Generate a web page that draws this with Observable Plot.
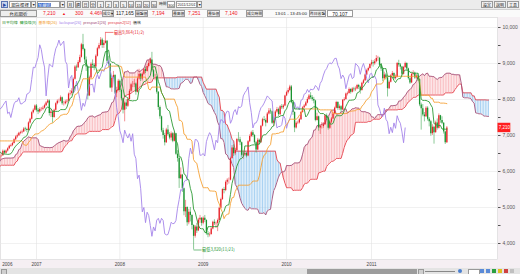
<!DOCTYPE html>
<html><head><meta charset="utf-8">
<script src="https://cdn.jsdelivr.net/npm/d3@7"></script>
<script src="https://cdn.jsdelivr.net/npm/@observablehq/plot@0.6"></script>
<style>
body{margin:0;width:520px;height:274px;overflow:hidden;background:#fff;position:relative;font-family:"Liberation Sans","Noto Sans CJK TC",sans-serif}
.b{position:absolute;font-size:5px;line-height:7px;height:7px;white-space:nowrap;color:#222}
.bx{border:0.5px solid #9a9a9a;background:#f1f1f1;text-align:center;box-sizing:border-box;overflow:hidden}
.r{color:#f0141e}
#chart{position:absolute;left:0;top:17px}
#leg{position:absolute;left:2px;top:19px;display:flex;gap:2.2px;font-size:3.9px;line-height:7px;white-space:nowrap}
</style></head><body>
<div style="position:absolute;left:0;top:0;width:520px;height:9px;background:#ececec"></div>
<div style="position:absolute;left:0;top:9px;width:520px;height:8px;background:#fafafa;border-top:0.5px solid #d0d0d0"></div>
<div id="chart"></div>
<div id="hdr"></div>
<div id="leg"></div>
<div style="position:absolute;left:0;top:268px;width:520px;height:6px;background:#e4e4e4"></div>
<div style="position:absolute;left:1px;top:268.5px;width:4px;height:5px;background:#cfcfcf;border:0.5px solid #999"></div>
<div style="position:absolute;left:307px;top:268.5px;width:110px;height:5px;background:#9c9c9c"></div>
<div style="position:absolute;left:418px;top:268.5px;width:4px;height:5px;background:#cfcfcf;border:0.5px solid #999"></div>
<div style="position:absolute;left:425px;top:270.5px;width:30px;height:1px;background:#888"></div>
<div style="position:absolute;left:458px;top:269px;width:4px;height:4px;background:#4a7fd0;border-radius:2px"></div>
<div style="position:absolute;left:468px;top:268.5px;width:10px;height:5px;background:#fff;border:0.5px solid #999"></div>
<div style="position:absolute;left:480px;top:269px;width:4px;height:4px;background:#5a8ad8"></div>
<div style="position:absolute;left:486px;top:269px;width:4px;height:4px;background:#5a8ad8"></div>
<div style="position:absolute;left:492px;top:269px;width:4px;height:4px;background:#2aa040"></div>
<div style="position:absolute;left:498px;top:269px;width:4px;height:4px;background:#e0c020"></div>
<div style="position:absolute;left:504px;top:269px;width:4px;height:4px;background:#d04040"></div>
<div style="position:absolute;left:510px;top:269px;width:4px;height:4px;background:#c0c0c0"></div>
<script>
// ---- weekly bars, first bar = week ending 2005-02-04 ----
const close = [
 6010,6060,6130,6170,
 6180,6280,6130,6010,6030,6090,5990,5820,5820,5890,5930,5960,6070,6120,6220,6260,6270,6210,6310,6350,
 6380,6310,6400,6300,6150,6040,6110,6230,6120,6050,6120,6050,5830,5720,5660,5850,5980,6060,6200,6330,
 6370,6420,6470,6550,
 6600,6580,6450,6620,6700,6590,6520,6610,6560,6480,6580,6620,6610,6880,6900,7150,7170,7320,7250,6920,
 6780,6790,6540,6500,6600,6700,6550,6450,6320,6430,6440,6560,6510,6570,6630,6700,6720,6780,6880,6960,
 6990,7060,7080,7100,7180,7170,7140,7350,7450,7630,7700,7820,
 7700,7650,7720,7730,7760,7830,7900,7960,7610,7650,7500,7700,7880,7950,7950,8050,7880,7880,7930,7950,
 8150,8170,8230,8560,8900,8880,9030,9170,9520,9390,9100,8900,8100,8600,8980,8950,8900,9200,9410,9500,
 9650,9500,9560,9620,9060,8980,8320,8590,8670,8180,8250,8510,
 8250,8020,7700,7900,7810,8000,8230,8410,8410,8430,8200,8570,8700,8570,8700,8830,8780,8920,9000,9100,
 8800,8620,8620,8200,7780,7520,7130,7000,6800,7150,7020,6930,7050,6840,7050,6480,6360,5800,5900,5520,
 4880,5000,4580,4870,4780,4500,4200,4460,4350,4650,4700,4560,
 4700,4640,4270,4240,4250,4400,4590,4550,4560,4640,4980,5220,5500,5470,5700,5760,5760,6360,6650,6490,
 6580,6890,6880,6800,6450,6460,6500,6430,6830,6970,7080,7000,6800,6600,6870,6800,7260,7440,7420,7350,
 7600,7680,7660,7340,7440,7650,7720,7580,7800,7770,7820,8100,
 8190,8250,8350,7910,7640,7210,7340,7350,7440,7640,7770,7820,7900,8000,8100,8050,8000,7960,7420,7520,
 7210,7250,7250,7300,7550,7480,7200,7370,7460,7600,7760,7920,7750,7800,7710,7980,8000,8150,8170,8280,
 8200,8290,8270,8290,8390,8340,8250,8450,8520,8680,8800,8860,8970,
 9020,8990,9050,9140,9145,8950,8850,8580,8680,8600,8300,8480,8660,8720,8580,8620,9000,8960,8900,8700,
 8890,9000,8850,8580,8460,8700,8730,8600,8650,8550,7850,7740,7570,7520,7760,7450,7380,7050,7230,7080,
 7350,7200,7550,7420,7340,7100,6800,7210
];
const high = [
 6060,6090,6160,6200,
 6260,6370,6300,6160,6090,6130,6110,6000,5880,5920,5970,5990,6090,6150,6240,6290,6310,6290,6330,6380,
 6420,6400,6480,6420,6310,6170,6140,6260,6240,6140,6150,6140,6060,5850,5760,5870,6000,6090,6220,6350,
 6410,6450,6500,6570,
 6640,6650,6600,6640,6730,6710,6620,6640,6650,6590,6600,6660,6660,6900,6960,7180,7230,7400,7470,7270,
 6960,6880,6800,6580,6640,6740,6720,6580,6460,6460,6500,6600,6590,6600,6660,6730,6760,6810,6910,6990,
 7040,7090,7120,7150,7220,7230,7200,7380,7480,7660,7740,7850,
 7860,7750,7770,7780,7810,7870,7940,8000,7990,7720,7680,7730,7910,7990,8010,8100,8070,7950,7980,8000,
 8180,8250,8300,8600,8940,8960,9080,9230,9560,9810,9420,9180,8920,8650,9020,9100,9000,9240,9450,9560,
 9720,9700,9640,9864,9640,9200,9000,8640,8780,8690,8340,8560,
 8540,8290,8040,7960,7990,8050,8280,8450,8500,8560,8460,8620,8840,8720,8740,8870,8900,8980,9080,9150,
 9310,8840,8700,8640,8220,7820,7540,7200,7060,7200,7280,7080,7100,7080,7090,7060,6580,6380,6100,5920,
 5540,5200,5020,4950,5000,4800,4520,4500,4560,4700,4780,4720,
 4740,4780,4660,4330,4300,4440,4620,4660,4600,4680,5010,5260,5520,5560,5740,5800,5820,6400,6720,6740,
 6640,6920,7080,6950,6820,6520,6560,6530,6860,7020,7120,7140,7030,6830,6920,6900,7280,7480,7530,7460,
 7640,7750,7740,7680,7480,7690,7780,7760,7830,7860,7860,8120,
 8230,8310,8395,8390,7950,7660,7380,7400,7480,7670,7800,7860,7940,8050,8140,8190,8110,8060,7980,7620,
 7540,7290,7360,7360,7580,7600,7500,7400,7500,7640,7790,7950,7940,7850,7830,8000,8050,8180,8210,8320,
 8300,8330,8340,8350,8420,8420,8370,8480,8560,8710,8840,8900,8990,
 9090,9080,9110,9220,9200,9170,8990,8870,8760,8720,8620,8520,8690,8780,8740,8680,9030,9090,9000,8920,
 8920,9040,9020,8870,8620,8730,8800,8760,8700,8720,8570,7900,7860,7640,7800,7800,7500,7420,7300,7260,
 7400,7460,7600,7560,7520,7360,7120,7250
];
const low = [
 5960,6000,6040,6100,
 6100,6150,6100,5980,5960,6000,5960,5790,5750,5800,5860,5890,5940,6040,6100,6190,6220,6170,6190,6280,
 6320,6280,6290,6270,6120,6010,6020,6090,6090,6010,6030,6020,5800,5690,5620,5640,5830,5950,6040,6180,
 6300,6340,6390,6450,
 6520,6540,6410,6430,6600,6560,6480,6500,6530,6450,6460,6550,6570,6600,6840,6880,7090,7150,7200,6880,
 6700,6700,6500,6400,6470,6570,6520,6410,6230,6300,6380,6420,6470,6490,6540,6610,6670,6690,6760,6860,
 6920,6970,7020,7040,7080,7120,7080,7120,7320,7430,7600,7680,
 7650,7580,7620,7670,7690,7740,7810,7880,7540,7500,7340,7480,7680,7850,7900,7930,7840,7820,7850,7880,
 7940,8100,8120,8220,8540,8780,8860,9000,9150,9350,9000,8780,7990,8080,8580,8870,8800,8880,9180,9380,
 9480,9420,9420,9540,9000,8880,8300,8200,8560,8140,8050,8230,
 8200,7960,7600,7380,7720,7780,7980,8200,8330,8330,8120,8180,8540,8500,8520,8660,8720,8760,8880,8960,
 8760,8560,8520,8150,7700,7450,7080,6900,6710,6780,6980,6880,6850,6800,6820,6450,6260,5530,5780,5420,
 4770,4720,4480,4520,4600,4380,3820,4150,4280,4330,4560,4480,
 4520,4580,4230,4160,4180,4230,4380,4500,4420,4330,4620,4950,5200,5380,5440,5620,5650,5740,6340,6420,
 6440,6560,6820,6720,6400,6340,6420,6380,6410,6800,6940,6950,6750,6510,6580,6740,6780,7240,7380,7240,
 7330,7570,7590,7310,7250,7420,7620,7520,7560,7720,7720,7800,
 8080,8150,8220,7880,7560,7080,7180,7300,7320,7420,7620,7740,7800,7880,7980,8000,7950,7880,7380,7400,
 7120,7030,7180,7200,7280,7420,7150,7170,7330,7440,7580,7740,7700,7700,7640,7700,7940,7980,8100,8150,
 8150,8180,8210,8220,8270,8280,8150,8230,8420,8500,8660,8770,8840,
 8930,8900,8950,9020,9060,8900,8780,8500,8540,8540,8070,8280,8460,8640,8540,8540,8600,8900,8820,8650,
 8680,8860,8800,8540,8420,8440,8660,8560,8560,8500,7800,7150,7520,7380,7500,7400,7240,6980,7000,6760,
 7060,7150,7180,7340,7300,7040,6750,6780
];
const yLabels = [4000,5000,6000,7000,8000,9000,10000];
const quote = {name:"台指期近", last:"7,210", chg:"300", pct:"4.46%", vol:"117,165", open:"7,194", hi:"7,251", lo:"7,140", time:"13:01 - 13:45:00", prev:"70,107", date:"2011/12/01"};
const legendItems = [["日平均線","#2a8a2a"],["轉換線(9)","#2e9b36"],["基準線(26)","#f29a1e"],["lackspan[26]","#a585ea"],["prespan1[26]","#a4527a"],["prespan2[52]","#e5434d"],["價格","#333"]];

// ---- header (HTML) ----
const hdr = document.getElementById("hdr");
function el(cls, x, y, w, txt, extra){ const d=document.createElement("div"); d.className=cls; d.style.left=x+"px"; d.style.top=y+"px"; if(w) d.style.width=w+"px"; d.innerHTML=txt; if(extra) d.style.cssText+=extra; hdr.appendChild(d); return d; }
el("b bx",1,1,7,"▶","background:#c9d6ee;border-color:#5a74b0;color:#2a4aa0;font-size:4px");
el("b bx",9,1,22,"期貨選擇","background:#fff;font-size:4.4px");
el("b bx",31,1,5,"▼","font-size:3.5px");
el("b bx",37,1,23,'<span style="background:#2f63c9;color:#fff">加權指</span>',"background:#fff;text-align:left;font-size:4.4px");
el("b bx",60,1,5,"▼","font-size:3.5px");
["月","週","日","分","1","2","3","5","10","15","20","30"].forEach((t,k)=>el("b bx",67+k*7.6,1,6.6,t,"font-size:4px"));
el("b",159,1,0,"時間","font-size:3.8px");
el("b bx",167,1,8,"300","background:#fff;font-size:4px");
el("b bx",176,1,21,"'"+quote.date+"'","background:#fff;font-size:3.6px");
el("b bx",197,1,5,"▼","font-size:3.5px");
["設定","說明","工具"].forEach((t,k)=>el("b bx",481+k*13,1,12,t,"font-size:4px"));
el("b bx",0,10,37,quote.name,"background:#eee;font-size:4.6px");
el("b r",43,10,0,quote.last);
el("b r",62,10,0,"▲","font-size:4px");
el("b r",75,10,0,quote.chg);
el("b r",90,10,0,quote.pct);
el("b bx",102,10,12,"成交量","font-size:3.8px");
el("b",116,10,0,quote.vol);
el("b bx",135,10,13,"開盤價","font-size:3.8px");
el("b r",152,10,0,quote.open);
el("b bx",172,10,13,"最高價","font-size:3.8px");
el("b r",188,10,0,quote.hi);
el("b bx",207,10,13,"最低價","font-size:3.8px");
el("b r",225,10,0,quote.lo);
el("b bx",246,10,17,"成交時間","font-size:3.8px");
el("b",275,10,0,quote.time,"font-size:4.4px");
el("b bx",309,10,17,"昨日收盤","font-size:3.8px");
el("b bx",327,10,26,quote.prev,"background:#fff");
const leg = document.getElementById("leg");
legendItems.forEach(([t,c])=>{ const d=document.createElement("span"); d.style.color=c; d.textContent=t; leg.appendChild(d); });

// ---- derived series ----
const N = close.length;
const dateOf = i => new Date(2005, 1, 4 + 7*i);
const X0 = 77.54, X1 = 387.6;
const bars = close.map((c,i)=>({i, open: i>0 ? close[i-1] : c, close:c, high:high[i], low:low[i]}));
const vis = bars.filter(d => d.i >= X0 - 1 && d.i <= X1);
function midRange(i,p){ if(i-p+1<0) return undefined; let hi=-Infinity, lo=Infinity; for(let k=i-p+1;k<=i;k++){ if(high[k]>hi) hi=high[k]; if(low[k]<lo) lo=low[k]; } return (hi+lo)/2; }
const ten=[], kij=[], chi=[], cloud=[];
for (let i=0;i<N;i++){
  const t=midRange(i,9), k=midRange(i,26), b=midRange(i,52);
  if(t!==undefined && i>=X0-1) ten.push({i, v:t});
  if(k!==undefined && i>=X0-1) kij.push({i, v:k});
  if(i-26>=X0-1) chi.push({i:i-26, v:close[i]});
  if(t!==undefined && k!==undefined && b!==undefined && i+26>=X0-1) cloud.push({j:i+26, a:(t+k)/2, b});
}
const yearStarts = [];
for (let i=1;i<N;i++) if (dateOf(i).getFullYear()!==dateOf(i-1).getFullYear() && i>=X0 && i<=X1) yearStarts.push({i, label:String(dateOf(i).getFullYear())});
const firstVis = vis.find(d=>d.i>=X0);
const fmt = d3.format(",");
const hiBar = vis.reduce((a,d)=> d.high>a.high ? d : a);
const loBar = vis.reduce((a,d)=> d.low<a.low ? d : a);
const md = i => { const dt=dateOf(i); return (dt.getMonth()+1)+"/"+dt.getDate(); };
const last = bars[N-1];
const up="#e8232a", dn="#1b9431";
const col = d => d.close >= d.open ? up : dn;

const chart = Plot.plot({
  width:520, height:257, marginLeft:0, marginRight:23, marginTop:0, marginBottom:15,
  style:{background:"#f5eff3", fontSize:"5px", fontFamily:"'Liberation Sans', sans-serif", color:"#555", overflow:"visible"},
  color:{type:"identity"},
  x:{type:"linear", domain:[X0,X1], axis:null},
  y:{type:"linear", domain:[3556,10278], axis:"right", ticks:d3.range(4000,10001,500), tickFormat:d=> yLabels.includes(d) ? fmt(d) : "", tickSize:2.5, tickPadding:2.5, label:null},
  marks:[
    Plot.frame({fill:"white", stroke:"#d6d6d6", strokeWidth:0.6}),
    Plot.ruleY(yLabels, {stroke:"#e8e8e8", strokeWidth:0.6}),
    Plot.ruleX(yearStarts, {x:"i", stroke:"#e2e2e2", strokeWidth:0.6}),
    Plot.ruleX(cloud, {x:"j", y1:"a", y2:"b", stroke:d=> d.a>=d.b ? "#f7a8ae" : "#8ec3ee", strokeWidth:0.75}),
    Plot.line(cloud, {x:"j", y:"b", stroke:"#e5434d", strokeWidth:0.9}),
    Plot.line(cloud, {x:"j", y:"a", stroke:"#a4527a", strokeWidth:0.9}),
    Plot.ruleX(vis, {x:"i", y1:"low", y2:"high", stroke:col, strokeWidth:0.5}),
    Plot.ruleX(vis, {x:"i", y1:"open", y2:"close", stroke:col, strokeWidth:1.3}),
    Plot.line(chi, {x:"i", y:"v", stroke:"#a585ea", strokeWidth:0.9}),
    Plot.line(kij, {x:"i", y:"v", stroke:"#f5a236", strokeWidth:0.9}),
    Plot.line(ten, {x:"i", y:"v", stroke:"#2e9b36", strokeWidth:0.9}),
    Plot.link([hiBar], {x1:"i", y1:"high", x2:d=>d.i+5, y2:"high", stroke:up, strokeWidth:0.6}),
    Plot.text([hiBar], {x:d=>d.i+5.3, y:"high", text:d=>"最高"+fmt(d.high)+"("+md(d.i)+")", textAnchor:"start", fill:up, fontSize:4.2, fontFamily:"'Noto Sans CJK TC', sans-serif"}),
    Plot.link([loBar], {x1:"i", y1:"low", x2:d=>d.i+5, y2:"low", stroke:dn, strokeWidth:0.6}),
    Plot.text([loBar], {x:d=>d.i+5.3, y:"low", text:d=>"最低"+fmt(d.low)+"("+md(d.i)+")", textAnchor:"start", fill:dn, fontSize:4.2, fontFamily:"'Noto Sans CJK TC', sans-serif"}),
    Plot.rect([last], {x1:X1+0.3, x2:X1+8.3, y1:d=>d.close-130, y2:d=>d.close+130, fill:"#ff1f1f"}),
    Plot.text([last], {x:X1+4.3, y:"close", text:d=>fmt(d.close), fill:"white", fontSize:4.5}),
    Plot.text(yearStarts, {x:"i", text:"label", frameAnchor:"bottom", dy:6.5, fill:"#444", fontSize:4.6}),
    Plot.text([firstVis], {x:"i", text:d=>String(dateOf(d.i).getFullYear()), frameAnchor:"bottom", dy:6.5, dx:1, textAnchor:"start", fill:"#444", fontSize:4.6})
  ]
});
document.getElementById("chart").append(chart);
</script>
</body></html>
